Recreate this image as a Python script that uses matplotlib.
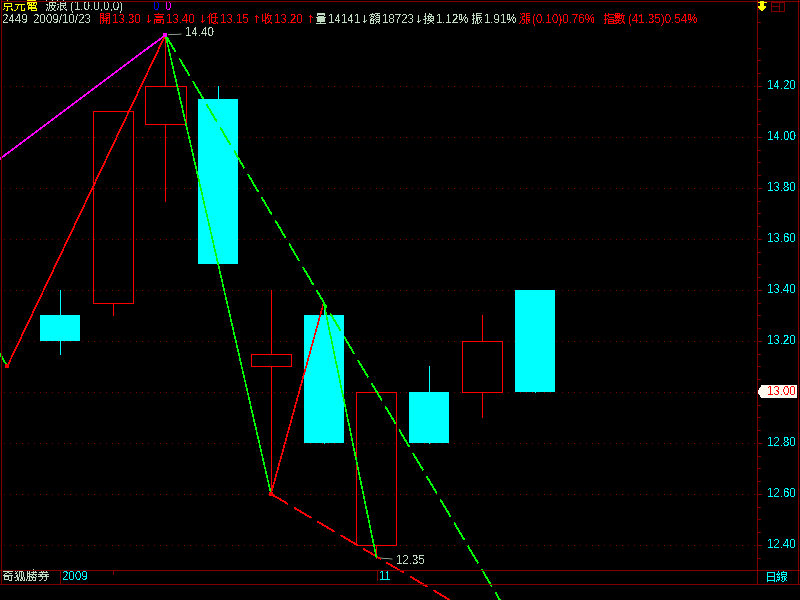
import numpy as np
import matplotlib
matplotlib.use("Agg")
import matplotlib.pyplot as plt
from matplotlib.patches import Rectangle, Polygon

plt.rcParams['font.family'] = ['Liberation Sans', 'Noto Sans CJK TC', 'DejaVu Sans']
plt.rcParams['text.antialiased'] = False

# candles, x index 0..9
opens  = [13.30, 13.35, 14.05, 14.15, 13.10, 13.30, 12.40, 13.00, 13.00, 13.40]
closes = [13.20, 14.10, 14.20, 13.50, 13.15, 12.80, 13.00, 12.80, 13.20, 13.00]
highs  = [13.40, 14.10, 14.40, 14.20, 13.40, 13.35, 13.00, 13.10, 13.30, 13.40]
lows   = [13.15, 13.30, 13.75, 13.50, 12.60, 12.80, 12.35, 12.80, 12.90, 13.00]

# wave lines
up_x = [-1, 2]
up_y = [13.10, 14.40]
up2_x = [4, 5]
up2_y = [12.60, 13.35]
down_x = [2, 4]
down_y = [14.40, 12.60]
down2_x = [5, 6]
down2_y = [13.35, 12.35]
left_x = [-1.14, -1]
left_y = [13.15, 13.10]
purple_x = [-1.14, 2]
purple_y = [13.914, 14.40]
dash_green_x = [2, 8.34]
dash_green_y = [14.40, 12.184]
dash_red_x = [4, 7.39]
dash_red_y = [12.60, 12.184]

price_ticks = [14.20, 14.00, 13.80, 13.60, 13.40, 13.20, 12.80, 12.60, 12.40]
grid_prices = [14.20, 14.00, 13.80, 13.60, 13.40, 13.20, 13.00, 12.80, 12.60, 12.40]
minor_prices = [12.35, 12.45, 12.50, 12.55, 12.65, 12.70, 12.75, 12.85, 12.90, 12.95, 13.05, 13.10,
                13.15, 13.25, 13.30, 13.35, 13.45, 13.50, 13.55, 13.65, 13.70, 13.75, 13.85, 13.90,
                13.95, 14.05, 14.10, 14.15, 14.25, 14.30, 14.35, 14.45, 14.50]
current_price = 13.00

DARK = '#800000'
RED = '#ff0000'
CYAN = '#00ffff'
GREEN = '#00ff00'
PALE = '#c0dcc0'
LW = 0.5
WAVE_LW = 0.3

fig = plt.figure(figsize=(8, 6), dpi=100, facecolor='black')

# price panel covers whole figure, wave lines run past the bottom frame
ax = fig.add_axes([0, 0, 1, 1], facecolor='black')
ax.set_xlim(-1.137, 14.03)
ax.set_ylim(12.184, 14.537)
ax.axis('off')

# overlay in pixels for frame and header
fr = fig.add_axes([0, 0, 1, 1], facecolor='none')
fr.set_xlim(0, 800)
fr.set_ylim(600, 0)
fr.axis('off')


def aline(a, xs, ys, color, lw=LW, **kw):
    return a.plot(xs, ys, color=color, lw=lw, antialiased=False, solid_capstyle='butt', **kw)


x_to_right = (757 - 60) / 52.75
for p in grid_prices:
    ax.plot([-1.06, x_to_right], [p, p], color=DARK, lw=LW, antialiased=False,
            dashes=(1.4, 8), zorder=1)

w = 0.38
for i in range(len(opens)):
    o, c, h, l = opens[i], closes[i], highs[i], lows[i]
    top, bot = max(o, c), min(o, c)
    if c >= o:
        aline(ax, [i, i], [top, h], RED, zorder=3)
        aline(ax, [i, i], [l, bot], RED, zorder=3)
        ax.add_patch(Rectangle((i - w, bot), 2 * w, top - bot, ec=RED, lw=LW, joinstyle='miter',
                               antialiased=False, zorder=3, fill=False))
    else:
        aline(ax, [i, i], [l, h], CYAN, zorder=3)
        ax.add_patch(Rectangle((i - w, bot), 2 * w, top - bot, fc=CYAN, ec='none',
                               antialiased=False, zorder=3))

aline(ax, purple_x, purple_y, '#ff00ff', lw=WAVE_LW, zorder=4)
aline(ax, left_x, left_y, GREEN, lw=WAVE_LW, zorder=4)
aline(ax, up_x, up_y, RED, lw=WAVE_LW, zorder=4)
aline(ax, up2_x, up2_y, RED, lw=WAVE_LW, zorder=4)
aline(ax, down_x, down_y, GREEN, lw=WAVE_LW, zorder=5)
aline(ax, down2_x, down2_y, GREEN, lw=WAVE_LW, zorder=5)
ax.plot(dash_green_x, dash_green_y, color=GREEN, lw=WAVE_LW, antialiased=False, dashes=(48, 18.7),
        dash_capstyle='butt', zorder=5)
ax.plot(dash_red_x, dash_red_y, color=RED, lw=WAVE_LW, antialiased=False, dashes=(48, 18.7),
        dash_capstyle='butt', zorder=4)

# pivot dots
ax.plot([2], [14.40], 's', ms=2.5, color='#ff00ff', mew=0, zorder=6)
ax.plot([-1, 4], [13.10, 12.60], 's', ms=2.5, color=RED, mew=0, zorder=6)

NUM = 8.3
CN = 8.6
ax.annotate('14.40', xy=(2, 14.40), xytext=(20, 2), textcoords='offset pixels', color=PALE,
            fontsize=NUM, va='center', arrowprops=dict(arrowstyle='-', color=PALE, lw=LW, shrinkA=1, shrinkB=2))
ax.annotate('12.35', xy=(6, 12.35), xytext=(20, -3), textcoords='offset pixels', color=PALE,
            fontsize=NUM, va='center', arrowprops=dict(arrowstyle='-', color=PALE, lw=LW, shrinkA=1, shrinkB=2))

# frame
for xs, ys in [([1, 799], [1, 1]), ([1, 1], [0, 584]), ([798, 798], [0, 584]), ([757, 757], [0, 584]),
               ([0, 800], [570, 570]), ([0, 800], [584, 584]), ([60, 60], [570, 584])]:
    aline(fr, xs, ys, DARK, zorder=8)
aline(fr, [113, 113], [570, 574], DARK, zorder=8)
aline(fr, [377, 377], [570, 580], DARK, zorder=8)


def price_px(p):
    return 600 - ax.transData.transform((0, p))[1]


for p in grid_prices:
    y = price_px(p)
    aline(fr, [757, 761], [y, y], DARK, zorder=8)
for p in minor_prices:
    y = price_px(p)
    aline(fr, [758, 760], [y, y], DARK, zorder=8)
for p in price_ticks:
    fr.text(796, price_px(p), '%.2f' % p, color=CYAN, fontsize=NUM, ha='right', va='center')

# last price tag
y = price_px(current_price)
fr.add_patch(Polygon([(758, y), (762, y - 6), (797, y - 6), (797, y + 6), (762, y + 6)],
                     fc='#fffbf0', ec='none', antialiased=False, zorder=9))
fr.text(796, y, '%.2f' % current_price, color=RED, fontsize=NUM, ha='right', va='center', zorder=10)

# header rows
fr.text(2, 7, '京元電', color='#ffff00', fontsize=CN, va='center')
fr.text(45, 7, '波浪', color=PALE, fontsize=CN, va='center')
fr.text(70, 7, '(1,0,0,0,0)', color=PALE, fontsize=NUM, va='center')
fr.text(153, 7, '0', color='#0000ff', fontsize=NUM, va='center')
fr.text(165, 7, '0', color='#ff00ff', fontsize=NUM, va='center')
fr.text(2, 20, '2449', color=PALE, fontsize=NUM, va='center')
fr.text(33, 20, '2009/10/23', color=PALE, fontsize=NUM, va='center')

row_labels = ['開', '高', '低', '收', '量', '額', '換', '振', '漲', '指數']
row_x = [99, 153, 207, 261, 315, 369, 423, 471, 519, 603]
row_values = ['13.30', '13.40', '13.15', '13.20', '14141', '18723', '1.12%', '1.91%',
              '(0.10)0.76%', '(41.35)0.54%']
row_arrows = ['↓', '↓', '↑', '↑', '↓', '↓', '', '', '', '']
row_colors = [RED, RED, RED, RED, PALE, PALE, PALE, PALE, RED, RED]
for lab, x0, val, arr, col in zip(row_labels, row_x, row_values, row_arrows, row_colors):
    fr.text(x0, 20, lab, color=col, fontsize=CN, va='center')
    fr.text(x0 + 12 * len(lab) + 1, 20, val, color=col, fontsize=NUM, va='center')
    if arr:
        fr.text(x0 + 45, 20, arr, color=col, fontsize=8, va='center', family='DejaVu Sans')

# footer
fr.text(2, 577, '奇狐勝券', color=PALE, fontsize=CN, va='center')
fr.text(62, 577, '2009', color=CYAN, fontsize=NUM, va='center')
fr.text(379, 577, '11', color=CYAN, fontsize=NUM, va='center')
fr.text(765, 578, '日線', color=CYAN, fontsize=CN, va='center')

# corner icons
fr.add_patch(Polygon([(760.5, 1), (763.5, 1), (763.5, 6), (766, 6), (762, 11), (758, 6), (760.5, 6)],
                     fc='#ffff00', ec='none', antialiased=False, zorder=9))
aline(fr, [758, 766], [2, 2], '#ffff00', zorder=9)
fr.add_patch(Rectangle((771, 2), 13, 9, fill=False, ec=DARK, lw=LW, antialiased=False, zorder=9))
aline(fr, [779, 779], [2, 11], DARK, zorder=9)
aline(fr, [771, 779], [6, 6], DARK, zorder=9)

fig.savefig('out.png', dpi=100, facecolor='black')
